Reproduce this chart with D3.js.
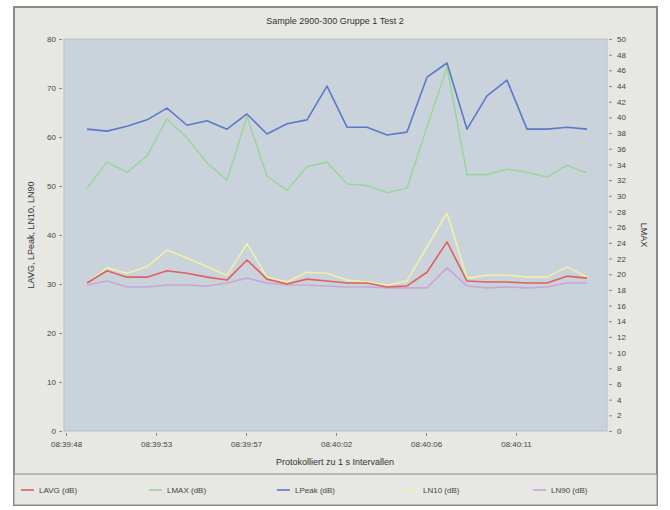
<!DOCTYPE html>
<html>
<head>
<meta charset="utf-8">
<script src="https://cdn.jsdelivr.net/npm/d3@7"></script>
<style>
  body { margin: 0; background: #ffffff; }
  text { font-family: "Liberation Sans", Arial, sans-serif; }
</style>
</head>
<body>
<div id="chart"></div>
<script>
// measurements, one per second
const lavg = [30.2, 32.7, 31.4, 31.4, 32.7, 32.2, 31.4, 30.8, 34.9, 31.0, 30.0, 31.0, 30.6, 30.2, 30.2, 29.4, 29.6, 32.4, 38.6, 30.6, 30.4, 30.4, 30.2, 30.2, 31.6, 31.2];
const lpeak = [61.6, 61.2, 62.2, 63.5, 65.9, 62.4, 63.3, 61.6, 64.7, 60.6, 62.7, 63.5, 70.4, 62.0, 62.0, 60.4, 61.0, 72.2, 75.1, 61.6, 68.4, 71.6, 61.6, 61.6, 62.0, 61.6];
const ln10 = [30.2, 33.3, 32.2, 33.5, 36.9, 35.3, 33.5, 31.8, 38.2, 31.4, 30.4, 32.4, 32.2, 30.8, 30.4, 29.8, 30.6, 37.6, 44.5, 31.2, 31.8, 31.8, 31.4, 31.4, 33.5, 31.4];
const ln90 = [29.8, 30.6, 29.4, 29.4, 29.8, 29.8, 29.6, 30.2, 31.2, 30.2, 29.8, 29.8, 29.6, 29.4, 29.4, 29.2, 29.2, 29.2, 33.3, 29.6, 29.2, 29.4, 29.2, 29.4, 30.2, 30.2];
// LMAX is plotted against the right axis
const lmax = [31.0, 34.3, 33.0, 35.1, 39.8, 37.4, 34.2, 32.0, 40.1, 32.5, 30.7, 33.7, 34.3, 31.5, 31.3, 30.4, 31.0, 38.8, 46.4, 32.7, 32.7, 33.4, 33.0, 32.4, 33.9, 32.9];

const startTime = new Date(2000, 0, 1, 8, 39, 49, 600);
const firstTick = new Date(2000, 0, 1, 8, 39, 48, 550);
const tickStepMs = 4500;
const tickCount = 6;
const leftTicks = [0, 10, 20, 30, 40, 50, 60, 70, 80];
const rightTicks = d3.range(0, 51, 2);

const seriesNames = ["LAVG (dB)", "LMAX (dB)", "LPeak (dB)", "LN10 (dB)", "LN90 (dB)"];
const seriesColors = ["#e0605c", "#9bd69a", "#5b79c9", "#f2f0a6", "#c9a6d6"];

const w = 670;
const h = 510;
const plot = { left: 64, right: 607, top: 39, bottom: 431 };

const times = lavg.map((d, i) => new Date(startTime.getTime() + i * 1000));
const tickTimes = d3.range(tickCount).map((k) => new Date(firstTick.getTime() + k * tickStepMs));

const xScale = d3.scaleTime()
  .domain([new Date(startTime.getTime() - 1150), new Date(startTime.getTime() + 26000)])
  .range([plot.left, plot.right]);

const yScale = d3.scaleLinear()
  .domain([0, 80])
  .range([plot.bottom, plot.top]);

const y2Scale = d3.scaleLinear()
  .domain([0, 50])
  .range([plot.bottom, plot.top]);

const svg = d3.select("#chart")
  .append("svg")
  .attr("width", w)
  .attr("height", h);

// chart background and frame
svg.append("rect")
  .attr("x", 0).attr("y", 0).attr("width", w).attr("height", h)
  .attr("fill", "#ffffff");
svg.append("rect")
  .attr("x", 14).attr("y", 7).attr("width", 643).attr("height", 498)
  .attr("fill", "#e7e7e4")
  .attr("stroke", "#8a8a8a")
  .attr("stroke-width", 2);

svg.append("text")
  .attr("x", 335).attr("y", 24)
  .attr("text-anchor", "middle")
  .attr("font-size", 9)
  .attr("fill", "#333")
  .text("Sample 2900-300 Gruppe 1 Test 2");

svg.append("rect")
  .attr("x", plot.left).attr("y", plot.top)
  .attr("width", plot.right - plot.left).attr("height", plot.bottom - plot.top)
  .attr("fill", "#cad3dc")
  .attr("stroke", "#b9bfc6")
  .attr("stroke-width", 1);

// axes
const xAxis = d3.axisBottom(xScale)
  .tickValues(tickTimes)
  .tickFormat(d3.timeFormat("%H:%M:%S"))
  .tickSize(3)
  .tickPadding(5);
const yAxis = d3.axisLeft(yScale).tickValues(leftTicks).tickSize(3);
const y2Axis = d3.axisRight(y2Scale).tickValues(rightTicks).tickSize(3).tickPadding(5);

svg.append("g")
  .attr("transform", `translate(0, ${plot.bottom + 2})`)
  .call(xAxis);
svg.append("g")
  .attr("transform", `translate(${plot.left - 2}, 0)`)
  .call(yAxis);
svg.append("g")
  .attr("transform", `translate(${plot.right + 2}, 0)`)
  .call(y2Axis);

svg.selectAll(".domain").remove();
svg.selectAll(".tick line").attr("stroke", "#888");
svg.selectAll(".tick text").attr("font-size", 8).attr("fill", "#444")
  .attr("font-family", "'Liberation Sans', Arial, sans-serif");

svg.append("text")
  .attr("transform", `translate(34, ${(plot.top + plot.bottom) / 2}) rotate(-90)`)
  .attr("text-anchor", "middle")
  .attr("font-size", 9)
  .attr("fill", "#333")
  .text("LAVG, LPeak, LN10, LN90");

svg.append("text")
  .attr("transform", `translate(641, ${(plot.top + plot.bottom) / 2}) rotate(90)`)
  .attr("text-anchor", "middle")
  .attr("font-size", 9)
  .attr("fill", "#333")
  .text("LMAX");

svg.append("text")
  .attr("x", 335).attr("y", 465)
  .attr("text-anchor", "middle")
  .attr("font-size", 9)
  .attr("fill", "#333")
  .text("Protokolliert zu 1 s Intervallen");

// lines
const line = d3.line()
  .x((d, i) => xScale(times[i]))
  .y((d) => yScale(d));
const line2 = d3.line()
  .x((d, i) => xScale(times[i]))
  .y((d) => y2Scale(d));

const g = svg.append("g").attr("fill", "none").attr("stroke-width", 1.6).attr("stroke-linejoin", "round");
g.append("path").attr("d", line2(lmax)).attr("stroke", seriesColors[1]);
g.append("path").attr("d", line(lpeak)).attr("stroke", seriesColors[2]);
g.append("path").attr("d", line(ln10)).attr("stroke", seriesColors[3]);
g.append("path").attr("d", line(ln90)).attr("stroke", seriesColors[4]);
g.append("path").attr("d", line(lavg)).attr("stroke", seriesColors[0]);

// legend
svg.append("rect")
  .attr("x", 14).attr("y", 474).attr("width", 643).attr("height", 31)
  .attr("fill", "#e7e7e4")
  .attr("stroke", "#8a8a8a")
  .attr("stroke-width", 1);

const legend = svg.selectAll(".legend")
  .data(seriesNames)
  .enter()
  .append("g")
  .attr("class", "legend")
  .attr("transform", (d, i) => `translate(${21 + i * 128}, 490)`);

legend.append("line")
  .attr("x1", 0).attr("x2", 13)
  .attr("y1", 0).attr("y2", 0)
  .attr("stroke", (d, i) => seriesColors[i])
  .attr("stroke-width", 1.6);

legend.append("text")
  .attr("x", 18).attr("y", 3)
  .attr("font-size", 8)
  .attr("fill", "#444")
  .text((d) => d);
</script>
</body>
</html>
